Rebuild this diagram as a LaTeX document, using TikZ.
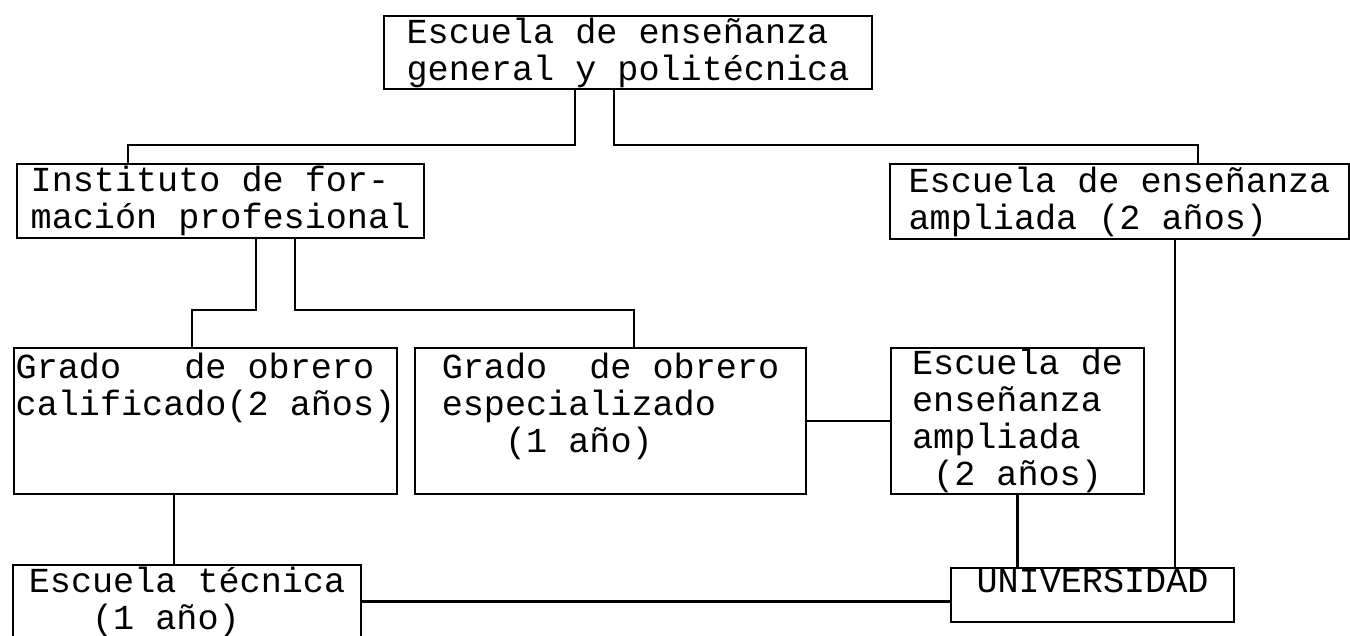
\documentclass[tikz,border=0pt]{standalone}
\usepackage{fontspec}
\setmainfont{Liberation Mono}
\tikzset{
  box/.style={draw, rectangle, inner sep=0pt, line width=1.2pt, anchor=north west, align=left, font=\fontsize{20}{21}\selectfont},
  link/.style={line width=1.2pt}
}
\begin{document}
\begin{tikzpicture}[x=0.02cm, y=-0.02cm]
\useasboundingbox (0,0) rectangle (1350,636);
\node[box, minimum width=9.76cm, minimum height=1.46cm] (sch0) at (383,15){Escuela de enseñanza\\general y politécnica};
\node[box, minimum width=8.14cm, minimum height=1.48cm] (sch1) at (16,163){Instituto de for-\\mación profesional};
\node[box, minimum width=9.18cm, minimum height=1.50cm] (sch2) at (889,163){Escuela de enseñanza\\ampliada (2 años)};
\node[box, minimum width=7.66cm, minimum height=2.92cm] (sch3) at (13,347){Grado\ \ \ de obrero\\calificado(2 años)\\~\\~};
\node[box, minimum width=7.82cm, minimum height=2.92cm] (sch4) at (414,347){Grado\ \ de obrero\\especializado\\\ \ \ (1 año)\\~};
\node[box, minimum width=5.06cm, minimum height=2.92cm] (sch5) at (890,347){Escuela de\\enseñanza\\ampliada\\\ (2 años)};
\node[box, draw=none, minimum width=6.92cm, minimum height=1.42cm] (sch6) at (13,565){Escuela técnica\\\ \ \ (1 año)};
\node[box, minimum width=5.66cm, minimum height=1.08cm, text depth=16pt] (sch7) at (950,567){UNIVERSIDAD};
\draw[link](sch6.south west) |- (sch6.north east) -- (sch6.south east);
\coordinate (jn0) at (575,145);
\coordinate (jn1) at (128,145);
\coordinate (jn2) at (614,145);
\coordinate (jn3) at (1198,145);
\coordinate (jn4) at (256,310);
\coordinate (jn5) at (192,310);
\coordinate (jn6) at (295,310);
\coordinate (jn7) at (634,310);
\coordinate (jn8) at (1175,400);
\coordinate (jn9) at (174,530);
\draw[link](sch0.south -| jn0) |- (jn1) -- (jn1 |- sch1.north);
\draw[link](sch0.south -| jn2) |- (jn3) -- (jn3 |- sch2.north);
\draw[link](sch1.south -| jn4) |- (jn5) -- (jn5 |- sch3.north);
\draw[link](sch1.south -| jn6) |- (jn7) -- (jn7 |- sch4.north);
\draw[link](sch4.east) -- (sch4.east -| sch5.west);
\draw[link](sch2.south -| jn8) -- (jn8 |- sch7.north);
\draw[link](sch5.south) -- (sch5.south |- sch7.north);
\draw[link](sch3.south -| jn9) -- (jn9 |- sch6.north);
\draw[link](sch6.east) -- (sch6.east -| sch7.west);
\end{tikzpicture}
\end{document}
